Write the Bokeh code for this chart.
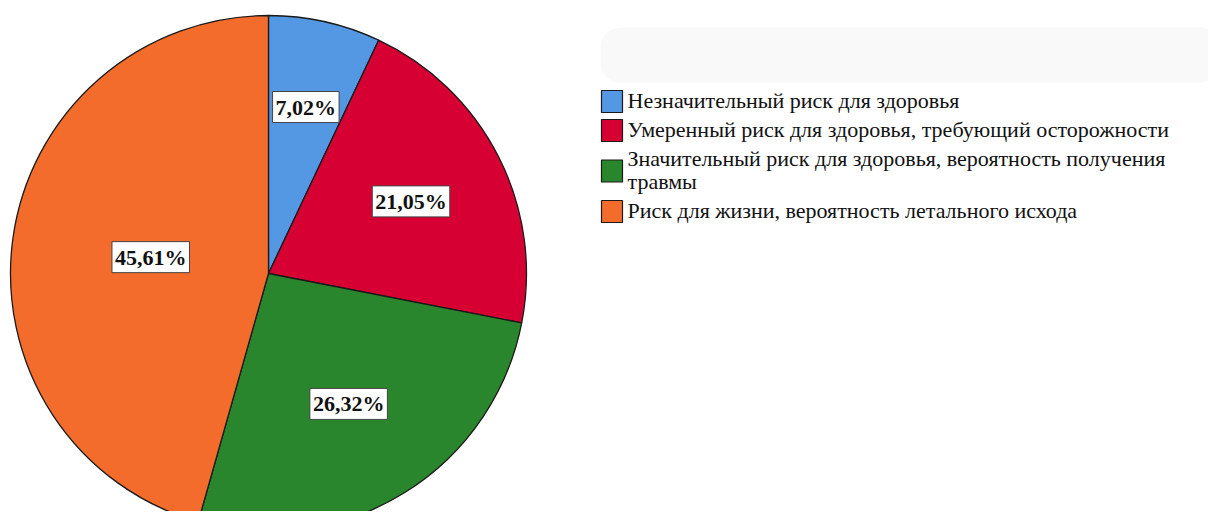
import math
from bokeh.plotting import figure
from bokeh.models import (ColumnDataSource, Range1d, Label, BoxAnnotation)
from bokeh.embed import file_html
from bokeh.resources import INLINE

# ---- data ----
categories = [
    "Незначительный риск для здоровья",
    "Умеренный риск для здоровья, требующий осторожности",
    "Значительный риск для здоровья, вероятность получения\nтравмы",
    "Риск для жизни, вероятность летального исхода",
]
percents = [7.02, 21.05, 26.32, 45.61]
labels = ["7,02%", "21,05%", "26,32%", "45,61%"]
colors = ["#5497E3", "#D60033", "#2A862C", "#F36C2C"]

# ---- layout ----
W, H = 1208, 511
cx, cy, R = 268, -273, 258

total = sum(percents)
starts, ends, lx, ly = [], [], [], []
cum = 0.0
for v in percents:
    f = v / total
    a0 = math.pi / 2 - 2 * math.pi * cum
    a1 = math.pi / 2 - 2 * math.pi * (cum + f)
    starts.append(a0)
    ends.append(a1)
    half = math.pi * f
    mid = (a0 + a1) / 2
    d = (2.0 / 3.0) * R * math.sin(half) / half
    lx.append(cx + d * math.cos(mid))
    ly.append(cy + d * math.sin(mid))
    cum += f

src = ColumnDataSource(dict(start=starts, end=ends, color=colors, lab=labels, lx=lx, ly=ly))

p = figure(width=W, height=H, output_backend="svg", toolbar_location=None,
           x_range=Range1d(0, W), y_range=Range1d(-H, 0),
           min_border=0, outline_line_color=None)
p.axis.visible = False
p.grid.visible = False
p.background_fill_color = "white"

p.add_layout(BoxAnnotation(left=600, right=1220, top=-27, bottom=-82,
                           fill_color="#f9f9f9", fill_alpha=1, line_color=None,
                           border_radius=20, level="underlay"))

r = p.wedge(x=cx, y=cy, radius=R, start_angle="start", end_angle="end",
            direction="clock", fill_color="color", line_color="#1a1a1a",
            line_width=1.3, source=src)

for xx, yy, t in zip(lx, ly, labels):
    p.add_layout(Label(x=xx, y=yy, text=t, text_align="center",
                       text_baseline="middle", text_font="Liberation Serif",
                       text_font_style="bold", text_font_size="22px", text_color="#111",
                       background_fill_color="white", border_line_color="#444",
                       border_line_width=1, padding=3))

# ---- legend (drawn manually) ----
leg_left, first_line, row_pitch, line_pitch = 601, 101, 29, 23
sq_w, sq_h = 21, 22
fs = 22
text_x = leg_left + sq_w + 5
gx, gy = [], []
line_y = first_line
for c in categories:
    lines = c.split("\n")
    ys = []
    for k, ln in enumerate(lines):
        if k > 0:
            line_y += line_pitch
        ys.append(line_y)
        p.add_layout(Label(x=text_x, y=-(line_y + fs / 2), text=ln,
                           text_font="serif",
                           text_font_size=f"{fs}px", text_color="#111"))
    gx.append(leg_left + sq_w / 2)
    gy.append(-(ys[0] + ys[-1]) / 2)
    line_y += row_pitch
lsrc = ColumnDataSource(dict(gx=gx, gy=gy, color=colors))
p.rect(x="gx", y="gy", width=sq_w, height=sq_h, fill_color="color",
       line_color="#1a1a1a", line_width=1.2, source=lsrc)

open("out.html", "w").write(file_html(p, INLINE))
